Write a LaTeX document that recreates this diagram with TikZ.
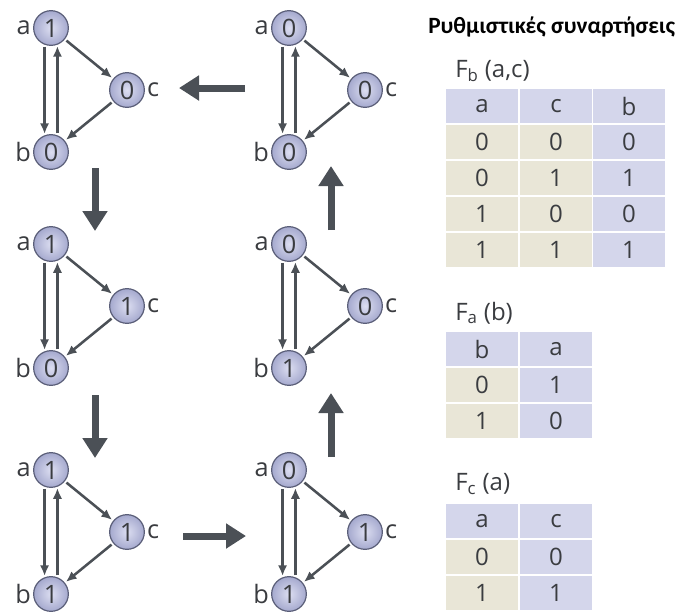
\documentclass[tikz,border=0pt]{standalone}
\usepackage{fontspec}
\setmainfont{Open Sans}
\newfontfamily\headfont{Carlito}
\usetikzlibrary{arrows.meta,calc}
\definecolor{Ink}{HTML}{3A3C40}
\definecolor{Edge}{HTML}{4B5056}
\definecolor{Rim}{HTML}{5A5E78}
\definecolor{Lilac}{HTML}{D4D6EB}
\definecolor{Sand}{HTML}{E9E6D7}
\definecolor{BallIn}{HTML}{DCDEF1}
\definecolor{BallOut}{HTML}{A5A9CE}

\begin{document}
\begin{tikzpicture}[x=0.75pt,y=-0.75pt,
    unit/.style={circle,draw=Rim,line width=0.9pt,shade,inner color=BallIn,outer color=BallOut,
                 minimum size=26pt,inner sep=0pt,font=\fontsize{19}{20}\selectfont,text=Ink},
    tag/.style={font=\fontsize{19}{20}\selectfont,text=Ink,inner sep=1.5pt},
    link/.style={Edge,line width=1.9pt,-{Latex[length=8pt,width=7pt]},shorten <=1.5pt,shorten >=1pt},
    flow/.style={Edge,line width=5.25pt,-{Triangle[length=15pt,width=18pt]}},
    cell/.style={minimum width=54pt,minimum height=25.5pt,inner sep=0pt,
                 font=\fontsize{18}{19}\selectfont,text=Ink},
    caption/.style={anchor=west,font=\fontsize{18}{19}\selectfont,text=Ink,inner sep=0pt}]
  \useasboundingbox (0,0) rectangle (676,612);

  % the six network states: a on top, c to the right, b below
  \foreach \n/\x/\y/\va/\vb/\vc in {1/51/28/1/0/0, 2/51/244/1/0/1, 3/51/470/1/1/1,
                                    4/289/470/0/1/1, 5/289/244/0/1/0, 6/289/28/0/0/0} {
    \node[unit,label={[tag]left:a}] (a\n) at (\x,\y) {\va};
    \node[unit,label={[tag]right:c}] (c\n) at (\x+76,\y+62) {\vc};
    \node[unit,label={[tag]left:b}] (b\n) at (\x,\y+124) {\vb};
    \draw[link] (a\n.-111) -- (b\n.111);
    \draw[link] (b\n.69) -- (a\n.-69);
    \draw[link] (a\n) -- (c\n);
    \draw[link] (c\n) -- (b\n);
  }

  % transitions between states
  \coordinate (s12) at (95,168);  \coordinate (e12) at (95,231);
  \coordinate (s23) at (95,395);  \coordinate (e23) at (95,458);
  \coordinate (s34) at (183,536); \coordinate (e34) at (246,536);
  \coordinate (s45) at (331,457); \coordinate (e45) at (331,393);
  \coordinate (s56) at (331,230); \coordinate (e56) at (331,166);
  \coordinate (s61) at (245,88);  \coordinate (e61) at (179,88);
  \foreach \p in {12,23,34,45,56,61}
    \draw[flow] (s\p) -- (e\p);

  % rule tables
  \node[anchor=west,inner sep=0pt,text=black,font=\headfont\bfseries\fontsize{17.5}{18}\selectfont]
    (title) at (428,27) {Ρυθμιστικές συναρτήσεις};

  \node[caption] (fbcap) at (455,71) {F\textsubscript{b} (a,c)};
  \node[cell,fill=Lilac] (fb-0-1) at (482,106) {a};
  \node[cell,fill=Lilac] (fb-0-2) at (556,106) {c};
  \node[cell,fill=Lilac] (fb-0-3) at (629,106) {b};
  \foreach \ca/\cc/\cb [count=\i] in {0/0/0, 0/1/1, 1/0/0, 1/1/1} {
    \node[cell,fill=Sand] (fb-\i-1) at (482,106+36*\i) {\ca};
    \node[cell,fill=Sand] (fb-\i-2) at (556,106+36*\i) {\cc};
    \node[cell,fill=Lilac] (fb-\i-3) at (629,106+36*\i) {\cb};
  }

  \node[caption] (facap) at (455,313) {F\textsubscript{a} (b)};
  \node[cell,fill=Lilac] (fa-0-1) at (482,349) {b};
  \node[cell,fill=Lilac] (fa-0-2) at (556,349) {a};
  \foreach \cb/\ca [count=\i] in {0/1, 1/0} {
    \node[cell,fill=Sand] (fa-\i-1) at (482,349+36*\i) {\cb};
    \node[cell,fill=Lilac] (fa-\i-2) at (556,349+36*\i) {\ca};
  }

  \node[caption] (fccap) at (455,484) {F\textsubscript{c} (a)};
  \node[cell,fill=Lilac] (fc-0-1) at (482,521) {a};
  \node[cell,fill=Lilac] (fc-0-2) at (556,521) {c};
  \foreach \ca/\cc [count=\i] in {0/0, 1/1} {
    \node[cell,fill=Sand] (fc-\i-1) at (482,521+36*\i) {\ca};
    \node[cell,fill=Lilac] (fc-\i-2) at (556,521+36*\i) {\cc};
  }
\end{tikzpicture}
\end{document}
